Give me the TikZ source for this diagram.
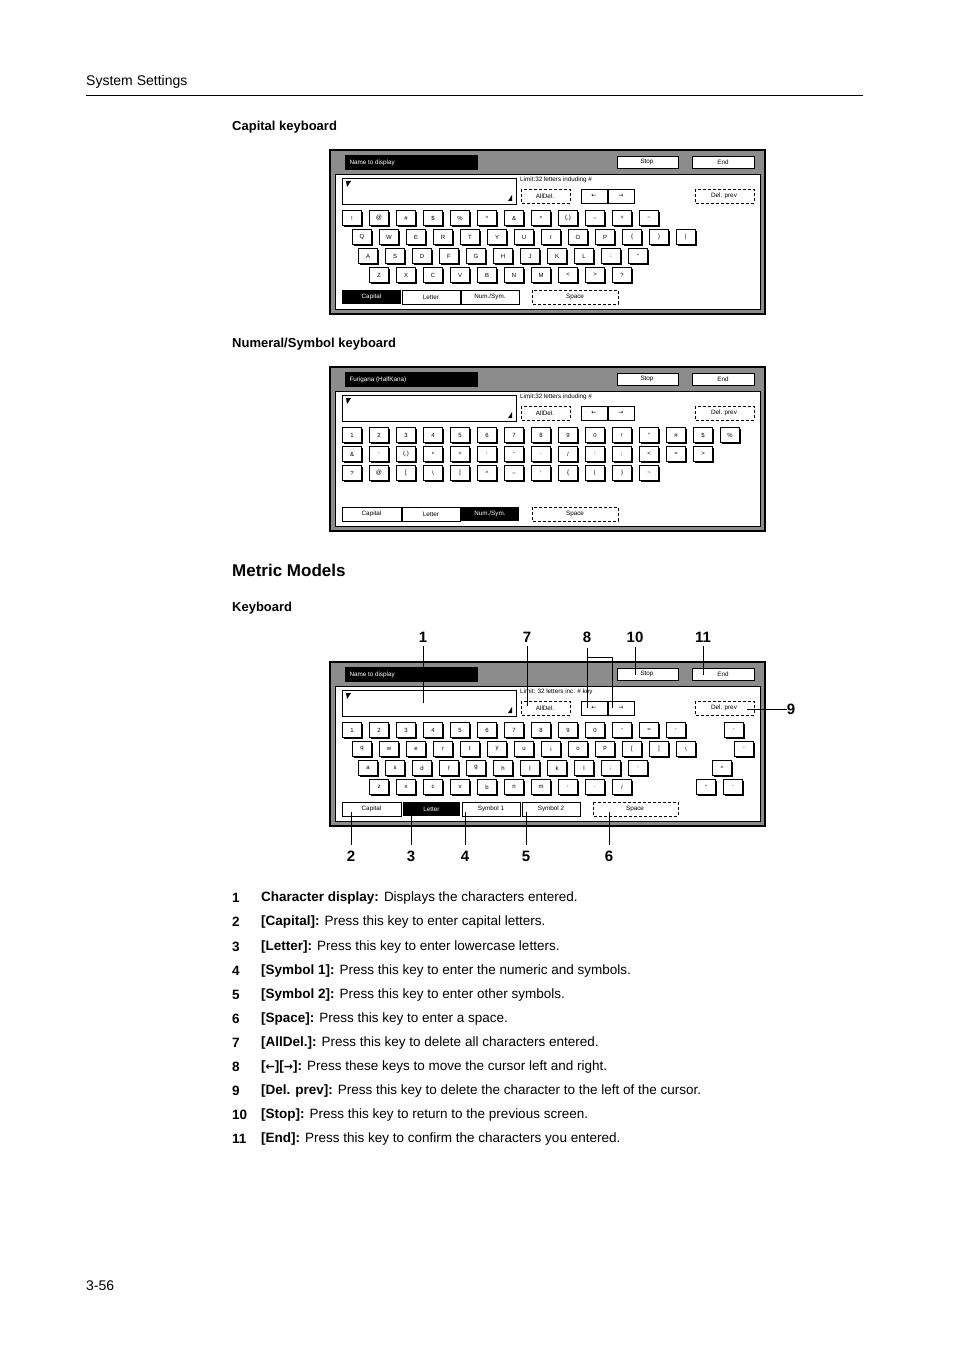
\documentclass[tikz,border=0pt]{standalone}
\usepackage{fontspec}
\setmainfont{Liberation Sans}
\newfontfamily\arrfont{DejaVu Sans}
\usetikzlibrary{shadows}
\begin{document}
\begin{tikzpicture}[x=1pt,y=-1pt,
  keyb/.style={draw,fill=white,line width=0.7pt,minimum width=19pt,minimum height=15pt,inner sep=0pt,font=\fontsize{6}{7}\selectfont,drop shadow={shadow xshift=1.3pt,shadow yshift=-1.3pt,fill=black,opacity=1}},
  btn/.style={draw,fill=white,line width=0.7pt},
  dbtn/.style={draw,densely dashed,fill=white,line width=0.6pt},
  tiny/.style={font=\fontsize{6.3}{7}\selectfont},
  body/.style={font=\fontsize{13.5}{15}\selectfont,anchor=west,inner sep=0pt},
  num/.style={font=\fontsize{15}{17}\selectfont\bfseries,inner sep=0pt},
  cl/.style={line width=0.6pt}]
\useasboundingbox (0,0) rectangle (954,1351);
\fill[white] (0,0) rectangle (954,1351);
\node[anchor=west,inner sep=0pt,font=\fontsize{14}{16}\selectfont] (hdr) at (86,82) {System Settings};
\draw[line width=0.6pt] (86,95) -- (863,95);
\node[anchor=west,inner sep=0pt,font=\fontsize{13}{15}\selectfont\bfseries] (h1) at (232,127) {Capital keyboard};
\node[anchor=west,inner sep=0pt,font=\fontsize{13}{15}\selectfont\bfseries] (h2) at (232,344) {Numeral/Symbol keyboard};
\node[anchor=west,inner sep=0pt,font=\fontsize{17}{19}\selectfont\bfseries] (h3) at (232,570) {Metric Models};
\node[anchor=west,inner sep=0pt,font=\fontsize{13}{15}\selectfont\bfseries] (h4) at (232,608) {Keyboard};
\newcommand\kbpanel[3]{%
 \fill[black!45] (330,#1) rectangle (765,#1+164);
 \draw[line width=1.2pt] (330,#1) rectangle (765,#1+164);
 \fill[white] (335,#1+24) rectangle (760,#1+159);
 \draw[line width=0.6pt] (335,#1+24) rectangle (760,#1+159);
 \fill[black] (345,#1+5) rectangle (478,#1+20);
 \node[tiny,text=white,anchor=west] at (346,#1+12.5) {#2};
 \draw[btn] (617,#1+6) rectangle (678,#1+18); \node[tiny] at (647,#1+12) {Stop};
 \draw[btn] (692,#1+6) rectangle (754,#1+18); \node[tiny] at (723,#1+12) {End};
 \draw[btn,line width=0.9pt] (342,#1+28) rectangle (516,#1+54);
 \fill (346,#1+31) -- (351,#1+31) -- (347,#1+37) -- cycle;
 \fill (512,#1+51) -- (512,#1+45) -- (508,#1+51) -- cycle;
 \node[tiny,anchor=west,inner sep=0pt] at (520,#1+30) {#3};
 \draw[dbtn] (521,#1+39) rectangle (570,#1+53); \node[tiny] at (545,#1+46) {AllDel.};
 \draw[btn,line width=0.9pt] (581,#1+39) rectangle (607,#1+53); \node[font=\arrfont\fontsize{6}{7}\selectfont] at (594,#1+46) {←};
 \draw[btn,line width=0.9pt] (608,#1+39) rectangle (634,#1+53); \node[font=\arrfont\fontsize{6}{7}\selectfont] at (621,#1+46) {→};
 \draw[dbtn] (695,#1+39) rectangle (754,#1+53); \node[tiny] at (724,#1+46) {Del. prev};
}
\newcommand\krow[4]{\foreach \l [count=\i from 0] in {#4}{\node[keyb] at ({#1+27*\i},#2) {\l};}}
\newcommand\bbtn[5]{% x1 x2 y label black?
 \ifnum#5=1 \fill[black] (#1,#3) rectangle (#2,#3+14); \node[tiny,text=white] at ({(#1+#2)/2},#3+7) {#4};
 \else \draw[btn] (#1,#3) rectangle (#2,#3+14); \node[tiny] at ({(#1+#2)/2},#3+7) {#4}; \fi}
% Panel 1
\kbpanel{150}{Name to display}{Limit:32 letters induding \#}
\krow{352}{218}{}{!,@,\#,\$,\%,\textasciicircum,\&,*,(,),\_,+,\textasciitilde}
\krow{362}{237}{}{Q,W,E,R,T,Y,U,I,O,P,\{,\},|}
\krow{368}{256}{}{A,S,D,F,G,H,J,K,L,:,"}
\krow{379}{275}{}{Z,X,C,V,B,N,M,<,>,?}
\bbtn{342}{401}{290}{Capital}{1}
\bbtn{402}{460}{290}{Letter}{0}
\bbtn{461}{519}{290}{Num./Sym.}{0}
\draw[dbtn] (532,290) rectangle (618,304); \node[tiny] at (575,297) {Space};
% Panel 2
\kbpanel{367}{Furigana (HalfKana)}{Limit:32 letters induding \#}
\krow{352}{435}{}{1,2,3,4,5,6,7,8,9,0,!,",\#,\$,\%}
\krow{352}{454}{}{\&,',(,),*,+,{,},-,.,/,:,;,<,=,>}
\krow{352}{473}{}{?,@,[,\textbackslash,],\textasciicircum,\_,`,\{,|,\},\textasciitilde}
\bbtn{342}{401}{507}{Capital}{0}
\bbtn{402}{460}{507}{Letter}{0}
\bbtn{461}{519}{507}{Num./Sym.}{1}
\draw[dbtn] (532,507) rectangle (618,521); \node[tiny] at (575,514) {Space};
% Panel 3
\kbpanel{662}{Name to display}{Limit: 32 letters inc. \# key}
\krow{352}{730}{}{1,2,3,4,5,6,7,8,9,0,-,=,`}
\node[keyb] at (734,730) {`};
\krow{362}{749}{}{q,w,e,r,t,y,u,i,o,p,[,],\textbackslash}
\node[keyb] at (744,749) {'};
\krow{368}{768}{}{a,s,d,f,g,h,j,k,l,;,'}
\node[keyb] at (722,768) {\textasciicircum};
\krow{379}{787}{}{z,x,c,v,b,n,m,{,},.,/}
\node[keyb] at (706,787) {"};
\node[keyb] at (733,787) {\textasciidieresis};
\bbtn{342}{401}{802}{Capital}{0}
\bbtn{403}{460}{802}{Letter}{1}
\bbtn{462}{520}{802}{Symbol 1}{0}
\bbtn{522}{580}{802}{Symbol 2}{0}
\draw[dbtn] (593,802) rectangle (678,816); \node[tiny] at (635,809) {Space};
% callouts
\node[num] (n1) at (423,637) {1};
\node[num] (n7) at (527,637) {7};
\node[num] (n8) at (587,637) {8};
\node[num] (n10) at (635,637) {10};
\node[num] (n11) at (703,637) {11};
\node[num] (n9) at (791,709) {9};
\draw[cl] (n1.south) ++(0,4) -- (423,703);
\draw[cl] (n7.south) ++(0,4) -- (527,706);
\draw[cl] (587,648) -- (587,708);
\draw[cl] (587,657) -- (612,657) -- (612,708);
\draw[cl] (n10.south) ++(0,4) -- (635,675);
\draw[cl] (n11.south) ++(0,4) -- (703,675);
\draw[cl] (747,709) -- (n9.west) ++(-4,0);
\draw[cl] (747,709) -- (782,709);
\node[num] (n2) at (351,856) {2};
\node[num] (n3) at (411,856) {3};
\node[num] (n4) at (465,856) {4};
\node[num] (n5) at (526,856) {5};
\node[num] (n6) at (609,856) {6};
\foreach \x in {351,411,465,526,609}{\draw[cl] (\x,845) -- (\x,812);}
% legend
\foreach \n/\y/\t in {
 1/898/{\textbf{Character display:} Displays the characters entered.},
 2/922/{\textbf{[Capital]:} Press this key to enter capital letters.},
 3/947/{\textbf{[Letter]:} Press this key to enter lowercase letters.},
 4/971/{\textbf{[Symbol 1]:} Press this key to enter the numeric and symbols.},
 5/995/{\textbf{[Symbol 2]:} Press this key to enter other symbols.},
 6/1019/{\textbf{[Space]:} Press this key to enter a space.},
 7/1043/{\textbf{[AllDel.]:} Press this key to delete all characters entered.},
 8/1067/{\textbf{[{\arrfont\fontsize{11}{13}\selectfont ←}][{\arrfont\fontsize{11}{13}\selectfont →}]:} Press these keys to move the cursor left and right.},
 9/1091/{\textbf{[Del. prev]:} Press this key to delete the character to the left of the cursor.},
 10/1115/{\textbf{[Stop]:} Press this key to return to the previous screen.},
 11/1139/{\textbf{[End]:} Press this key to confirm the characters you entered.}}{
 \node[body,font=\fontsize{13.5}{15}\selectfont\bfseries] at (232,\y) {\n};
 \node[body] at (261,\y) {\t};
}
\node[anchor=west,inner sep=0pt,font=\fontsize{14}{16}\selectfont] (pg) at (86,1286) {3-56};
\end{tikzpicture}
\end{document}
